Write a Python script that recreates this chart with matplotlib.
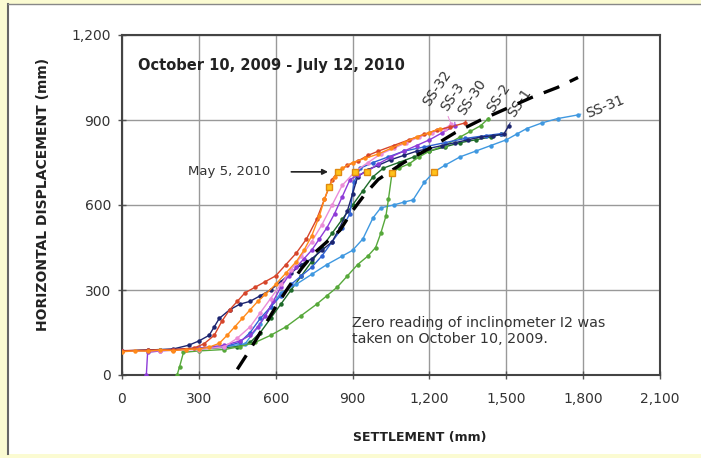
import matplotlib
matplotlib.use('Agg')
import matplotlib.pyplot as plt
from matplotlib.patches import Rectangle
from matplotlib.lines import Line2D

plt.rcParams['font.family'] = ['DejaVu Sans']

# settlement (x) / horizontal displacement (y), mm
orange_x = [0, 50, 100, 150, 200, 250, 300, 340, 380, 410, 440, 470, 500, 530, 560, 600, 640, 680, 710, 740, 770, 790, 808, 830, 860, 900, 950, 1000, 1050, 1100, 1150, 1200, 1240]
orange_y = [82, 85, 84, 88, 86, 90, 92, 98, 112, 140, 170, 200, 230, 260, 285, 320, 360, 400, 440, 490, 560, 620, 664, 700, 730, 750, 765, 780, 800, 820, 840, 855, 870]

ss30_x = [0, 100, 200, 280, 320, 360, 390, 420, 450, 480, 520, 560, 600, 640, 680, 720, 760, 790, 820, 843, 880, 920, 960, 1000, 1060, 1120, 1180, 1230, 1280, 1340]
ss30_y = [86, 88, 90, 95, 110, 140, 190, 230, 260, 290, 310, 330, 350, 390, 430, 480, 550, 620, 690, 717, 740, 755, 775, 790, 810, 830, 850, 865, 875, 890]

ss32_x = [0, 150, 300, 400, 450, 500, 540, 580, 620, 660, 700, 740, 780, 820, 860, 909, 960, 1010, 1060, 1110, 1160, 1210, 1260, 1285]
ss32_y = [84, 86, 90, 100, 130, 170, 220, 270, 320, 370, 420, 470, 530, 600, 670, 717, 750, 780, 800, 820, 840, 855, 870, 885]

ss3_x = [95, 100, 150, 200, 300, 400, 460, 500, 530, 560, 590, 620, 650, 680, 710, 740, 770, 800, 830, 860, 890, 920, 956, 1000, 1050, 1100, 1150, 1200, 1250, 1300]
ss3_y = [0, 80, 85, 88, 95, 105, 120, 140, 170, 210, 260, 310, 350, 380, 410, 440, 480, 520, 570, 630, 690, 705, 717, 745, 770, 790, 810, 830, 855, 880]

ss1_x = [0, 100, 200, 260, 300, 340, 360, 380, 420, 460, 500, 540, 580, 620, 660, 700, 740, 780, 820, 850, 880, 900, 920, 960, 1000, 1050, 1100, 1150, 1200, 1250, 1300, 1350, 1400, 1450, 1490, 1510]
ss1_y = [85, 88, 92, 105, 120, 140, 170, 200, 230, 250, 260, 280, 300, 330, 360, 390, 410, 440, 470, 520, 580, 640, 700, 725, 740, 760, 775, 790, 800, 810, 820, 830, 840, 845, 850, 880]

blue_x = [0, 200, 300, 400, 460, 500, 540, 580, 620, 660, 700, 740, 780, 820, 860, 890, 905, 930, 980, 1040, 1100, 1180, 1260, 1340, 1420, 1480]
blue_y = [84, 90, 95, 100, 115, 150, 200, 240, 280, 320, 350, 380, 420, 470, 520, 570, 680, 730, 750, 770, 790, 805, 820, 835, 845, 852]

dkgreen_x = [0, 150, 300, 450, 500, 540, 580, 620, 660, 700, 740, 780, 820, 860, 900, 940, 980, 1020, 1080, 1140, 1200, 1260, 1320, 1380, 1440, 1480]
dkgreen_y = [85, 88, 92, 100, 115, 150, 200, 250, 300, 350, 400, 450, 500, 550, 600, 650, 700, 730, 750, 770, 790, 805, 820, 830, 840, 850]

ss2_x = [215, 225, 240, 300, 400, 460, 520, 580, 640, 700, 760, 800, 840, 880, 920, 960, 990, 1010, 1030, 1040, 1054, 1080, 1120, 1160, 1200, 1260, 1320, 1360, 1400, 1430]
ss2_y = [0, 30, 80, 85, 90, 100, 115, 140, 170, 210, 250, 280, 310, 350, 390, 420, 450, 500, 560, 620, 713, 730, 745, 770, 790, 810, 840, 860, 880, 905]

ss31_x = [0, 150, 300, 400, 480, 540, 580, 620, 680, 740, 800, 860, 900, 940, 980, 1010, 1060, 1100, 1136, 1180, 1218, 1260, 1320, 1380, 1440, 1500, 1540, 1580, 1640, 1700, 1780]
ss31_y = [85, 88, 92, 100, 110, 180, 240, 290, 320, 355, 390, 420, 440, 480, 555, 590, 600, 610, 618, 680, 717, 740, 770, 790, 810, 830, 850, 870, 890, 905, 918]

trend_x = [450, 500, 550, 600, 650, 700, 750, 800, 850, 900, 950, 1000, 1100, 1200, 1300, 1400, 1500, 1600, 1700, 1780]
trend_y = [20, 90, 165, 240, 310, 375, 430, 470, 510, 580, 640, 690, 750, 800, 855, 900, 940, 980, 1015, 1050]

may5_x = [808, 843, 909, 956, 1054, 1218]
may5_y = [664, 717, 717, 717, 713, 717]

labels = ['SS-32', 'SS-3', 'SS-30', 'SS-2', 'SS-1', 'SS-31']
label_x = [1229, 1292, 1366, 1471, 1550, 1885]
label_y = [1013, 981, 981, 978, 960, 945]

xticks = [0, 300, 600, 900, 1200, 1500, 1800, 2100]
yticks = [0, 300, 600, 900, 1200]

fig = plt.figure(figsize=(7.01, 4.58), dpi=100)
fig.patch.set_facecolor('#FBFBD2')
fig.patches.append(Rectangle((8/701, 4/458), 700/701, 450/458, transform=fig.transFigure,
                             facecolor='white', edgecolor='none', zorder=-10))
fig.lines.append(Line2D([8/701, 8/701], [4/458, 454/458], transform=fig.transFigure,
                        color='#666666', lw=1.5))
fig.lines.append(Line2D([8/701, 1], [454/458, 454/458], transform=fig.transFigure,
                        color='#888888', lw=1.0))

ax = fig.add_axes([122/701, 83/458, 538/701, 340/458])
ax.set_zorder(5)

series = [
    (dkgreen_x, dkgreen_y, '#1E6B2A', None),
    (ss31_x, ss31_y, '#3F98E0', 'SS-31'),
    (ss2_x, ss2_y, '#56A83A', 'SS-2'),
    (blue_x, blue_y, '#2F62D2', None),
    (ss1_x, ss1_y, '#1C2570', 'SS-1'),
    (ss3_x, ss3_y, '#8E3BD8', 'SS-3'),
    (ss32_x, ss32_y, '#EA8CD8', 'SS-32'),
    (ss30_x, ss30_y, '#D6452A', 'SS-30'),
    (orange_x, orange_y, '#FF8A1A', None),
]
ends = {}
for xs, ys, c, name in series:
    ax.plot(xs, ys, '-o', color=c, lw=1.0, ms=2.2, zorder=3)
    if name:
        ends[name] = (xs[-1], ys[-1], c)

ax.plot(trend_x, trend_y, color='black', lw=2.4, ls=(0, (5, 3.5)), zorder=4)
ax.plot(may5_x, may5_y, 's', color='#FFC21A', mec='#E08A10', ms=5, zorder=5)

for name, lx, ly in zip(labels, label_x, label_y):
    ex, ey, c = ends[name]
    rot = 22 if name == 'SS-31' else 56
    ax.annotate(name, xy=(ex, ey), xytext=(lx, ly), ha='center', va='center',
                rotation=rot, fontsize=10, color='#333333',
                arrowprops=dict(arrowstyle='-', color=c, lw=0.7, shrinkA=4, shrinkB=0))

ax.annotate('', xy=(815, 717), xytext=(650, 717),
            arrowprops=dict(arrowstyle='-|>', color='#222222', lw=1.2, mutation_scale=8))
ax.text(258, 717, 'May 5, 2010', fontsize=9.5, color='#333333', va='center')
ax.text(62, 1094, 'October 10, 2009 - July 12, 2010', fontsize=10.5, fontweight='bold',
        color='#222222', va='center')
ax.text(898, 155, 'Zero reading of inclinometer I2 was\ntaken on October 10, 2009.',
        fontsize=10.3, color='#333333', va='center', linespacing=1.15)

ax.set_xlim(0, 2100)
ax.set_ylim(0, 1200)
ax.set_xticks(xticks)
ax.set_yticks(yticks)
ax.set_xticklabels([f'{v:,}' for v in xticks])
ax.set_yticklabels([f'{v:,}' for v in yticks])
ax.tick_params(direction='inout', length=6, width=1, color='#555555', labelsize=10,
               labelcolor='#333333')
ax.tick_params(axis='x', pad=9)
ax.tick_params(axis='y', pad=5)
ax.grid(True, color='#999999', lw=1)
ax.set_axisbelow(True)
for s in ax.spines.values():
    s.set_color('#444444')
    s.set_linewidth(1.5)

fig.text(420/701, 1 - 438/458, 'SETTLEMENT (mm)', fontsize=9, fontweight='bold',
         color='#222222', ha='center', va='center')
fig.text(43/701, 1 - 194/458, 'HORIZONTAL DISPLACEMENT (mm)', fontsize=10, fontweight='bold',
         color='#222222', ha='center', va='center', rotation=90)

fig.savefig('out.png', dpi=100, facecolor=fig.get_facecolor())
